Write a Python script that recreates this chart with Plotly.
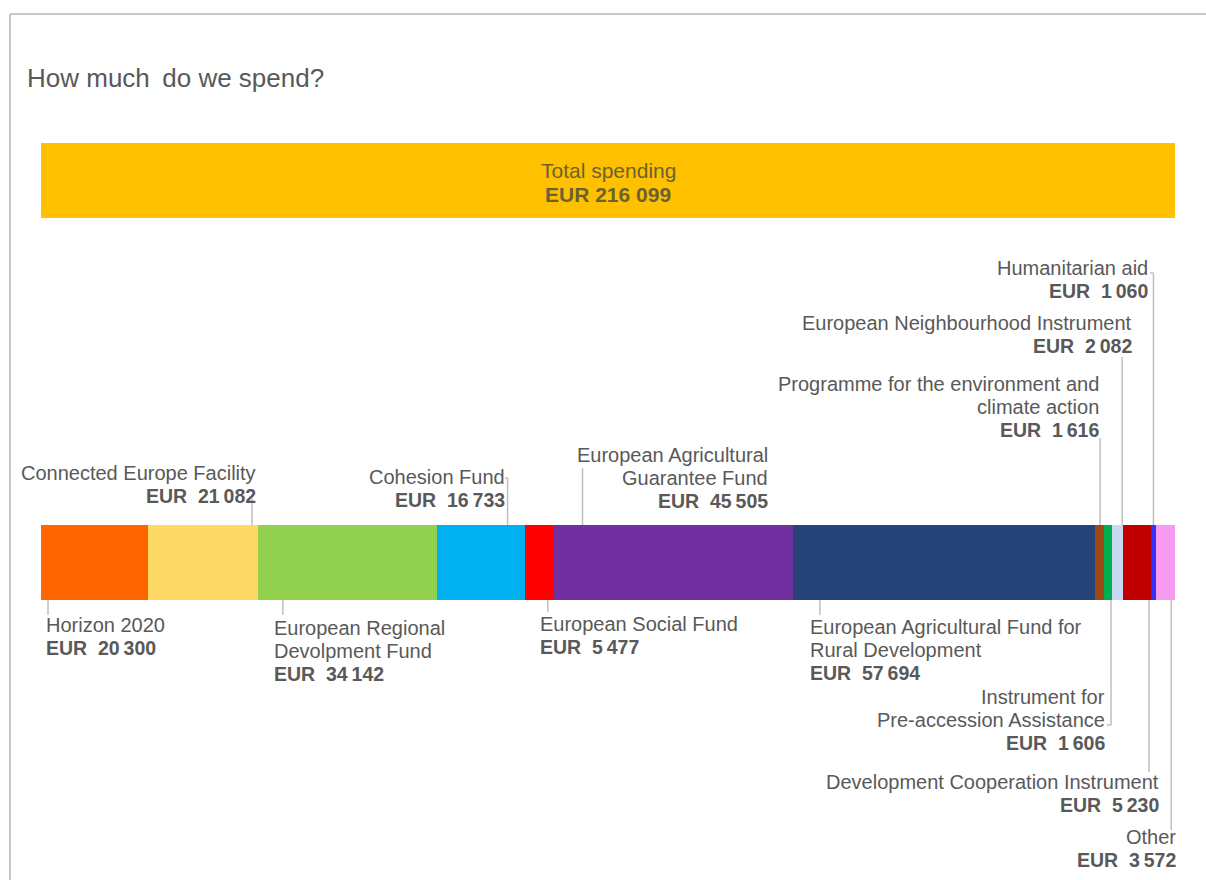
import plotly.graph_objects as go

# ---------------- data ----------------
categories = [
    "Horizon 2020", "Connected Europe Facility", "European Regional Devolpment Fund",
    "Cohesion Fund", "European Social Fund", "European Agricultural Guarantee Fund",
    "European Agricultural Fund for Rural Development",
    "Programme for the environment and climate action",
    "Instrument for Pre-accession Assistance", "European Neighbourhood Instrument",
    "Development Cooperation Instrument", "Humanitarian aid", "Other",
]
label_lines = [
    ["Horizon 2020"], ["Connected Europe Facility"], ["European Regional", "Devolpment Fund"],
    ["Cohesion Fund"], ["European Social Fund"], ["European Agricultural", "Guarantee Fund"],
    ["European Agricultural Fund for", "Rural Development"],
    ["Programme for the environment and", "climate action"],
    ["Instrument for", "Pre-accession Assistance"], ["European Neighbourhood Instrument"],
    ["Development Cooperation Instrument"], ["Humanitarian aid"], ["Other"],
]
values = [20300, 21082, 34142, 16733, 5477, 45505, 57694, 1616, 1606, 2082, 5230, 1060, 3572]
total_label = "Total spending"
total_value = 216099
title = "How much\u2009 do we spend?"

# ---------------- styles ----------------
colors = ["#FF6600", "#FFD966", "#92D050", "#00B0F0", "#FF0000", "#7030A0", "#264478",
          "#9C4A1A", "#00B050", "#C6D9F1", "#C00000", "#3333FF", "#F79BF0"]
TEXT = "#595959"
LINE = "#BFBFBF"
FONT = "Liberation Sans, Arial"
W, H = 1206, 880
X0, X1 = 41, 1175          # pixel extent of the bars
BAR_Y, BAR_H = 562.5, 75
TOT_Y = 180.5
LINE_STEP = 23

# label layout: side, text anchor px, first-line centre px, anchor, fraction in segment, line end px, tick end px
label_layout = [
    ("below", 44, 625, "left", 0.066, 615, None),
    ("above", 258, 473, "right", 0.944, 498, None),
    ("below", 272, 628, "left", 0.138, 615, None),
    ("above", 507, 477, "right", 0.80, 478, 505),
    ("below", 538, 624, "left", 0.79, 612, None),
    ("above", 770, 455, "right", 0.12, 468, None),
    ("below", 808, 627, "left", 0.09, 615, None),
    ("above", 1101, 384, "right", 0.55, 438, None),
    ("below", 1107, 697, "right", 0.85, 725, 1107),
    ("above", 1134, 323, "right", 0.90, 357, None),
    ("below", 1161, 782, "right", 0.94, 772, None),
    ("above", 1150, 268, "right", 0.50, 273, 1150),
    ("below", 1178, 837, "right", 0.80, 830, None),
]

def fmt(v):
    return f"{v:,}".replace(",", "\u2009")

starts = []
acc = 0
for v in values:
    starts.append(acc)
    acc += v

fig = go.Figure()
fig.add_trace(go.Bar(
    x=[total_value], base=[0], y=[TOT_Y], width=[BAR_H], orientation="h",
    marker=dict(color="#FFC000", line=dict(width=0)), hoverinfo="skip", showlegend=False,
))
fig.add_trace(go.Bar(
    x=values, base=starts, y=[BAR_Y] * len(values), width=[BAR_H] * len(values),
    orientation="h", marker=dict(color=colors, line=dict(width=0)),
    hovertext=categories, showlegend=False,
))

px_per = (X1 - X0) / total_value
annotations = []
shapes = []

# frame
shapes.append(dict(type="line", xref="paper", yref="y", x0=10 / W, x1=1, y0=14, y1=14,
                   line=dict(color="#C8C8C8", width=2)))
shapes.append(dict(type="line", xref="paper", yref="y", x0=10 / W, x1=10 / W, y0=14, y1=H,
                   line=dict(color="#C8C8C8", width=2)))

annotations.append(dict(text=title, xref="paper", yref="y", x=25 / W, y=78, xanchor="left",
                        yanchor="middle", showarrow=False,
                        font=dict(size=26, color=TEXT, family=FONT)))
annotations.append(dict(text=total_label, xref="x", yref="y",
                        x=total_value / 2, y=170, xanchor="center", yanchor="middle",
                        showarrow=False, font=dict(size=21, color="#6B6232", family=FONT)))
annotations.append(dict(text=f"<b>EUR {fmt(total_value).replace(chr(8201), ' ')}</b>", xref="x", yref="y",
                        x=total_value / 2, y=194, xanchor="center", yanchor="middle",
                        showarrow=False, font=dict(size=21, color="#6B6232", family=FONT)))

for i, (lines, v) in enumerate(zip(label_lines, values)):
    side, tx, ty, anchor, frac, yend, tick = label_layout[i]
    for k, ln in enumerate(lines):
        annotations.append(dict(
            text=ln, xref="paper", yref="y", x=tx / W, y=ty + k * LINE_STEP,
            xanchor=anchor, yanchor="middle", showarrow=False,
            font=dict(size=20, color=TEXT, family=FONT)))
    annotations.append(dict(
        text=f"<b>EUR\u00a0 {fmt(v)}</b>", xref="paper", yref="y",
        x=tx / W, y=ty + len(lines) * LINE_STEP,
        xanchor=anchor, yanchor="middle", showarrow=False,
        font=dict(size=19.5, color=TEXT, family=FONT)))
    lx = starts[i] + frac * v
    ystart = BAR_Y - BAR_H / 2 if side == "above" else BAR_Y + BAR_H / 2
    shapes.append(dict(type="line", xref="x", yref="y", x0=lx, x1=lx, y0=ystart, y1=yend,
                       line=dict(color=LINE, width=1.5), layer="below"))
    if tick is not None:
        shapes.append(dict(type="line", xref="x", yref="y", x0=lx, x1=(tick - X0) / px_per,
                           y0=yend, y1=yend, line=dict(color=LINE, width=1.5), layer="below"))

fig.update_layout(
    width=W, height=H, margin=dict(l=0, r=0, t=0, b=0),
    paper_bgcolor="white", plot_bgcolor="white", barmode="overlay", bargap=0,
    xaxis=dict(domain=[X0 / W, X1 / W], range=[0, total_value], visible=False, fixedrange=True),
    yaxis=dict(domain=[0, 1], range=[H, 0], visible=False, fixedrange=True),
    annotations=annotations, shapes=shapes,
    font=dict(family=FONT, color=TEXT),
)
fig.write_html("out.html")
